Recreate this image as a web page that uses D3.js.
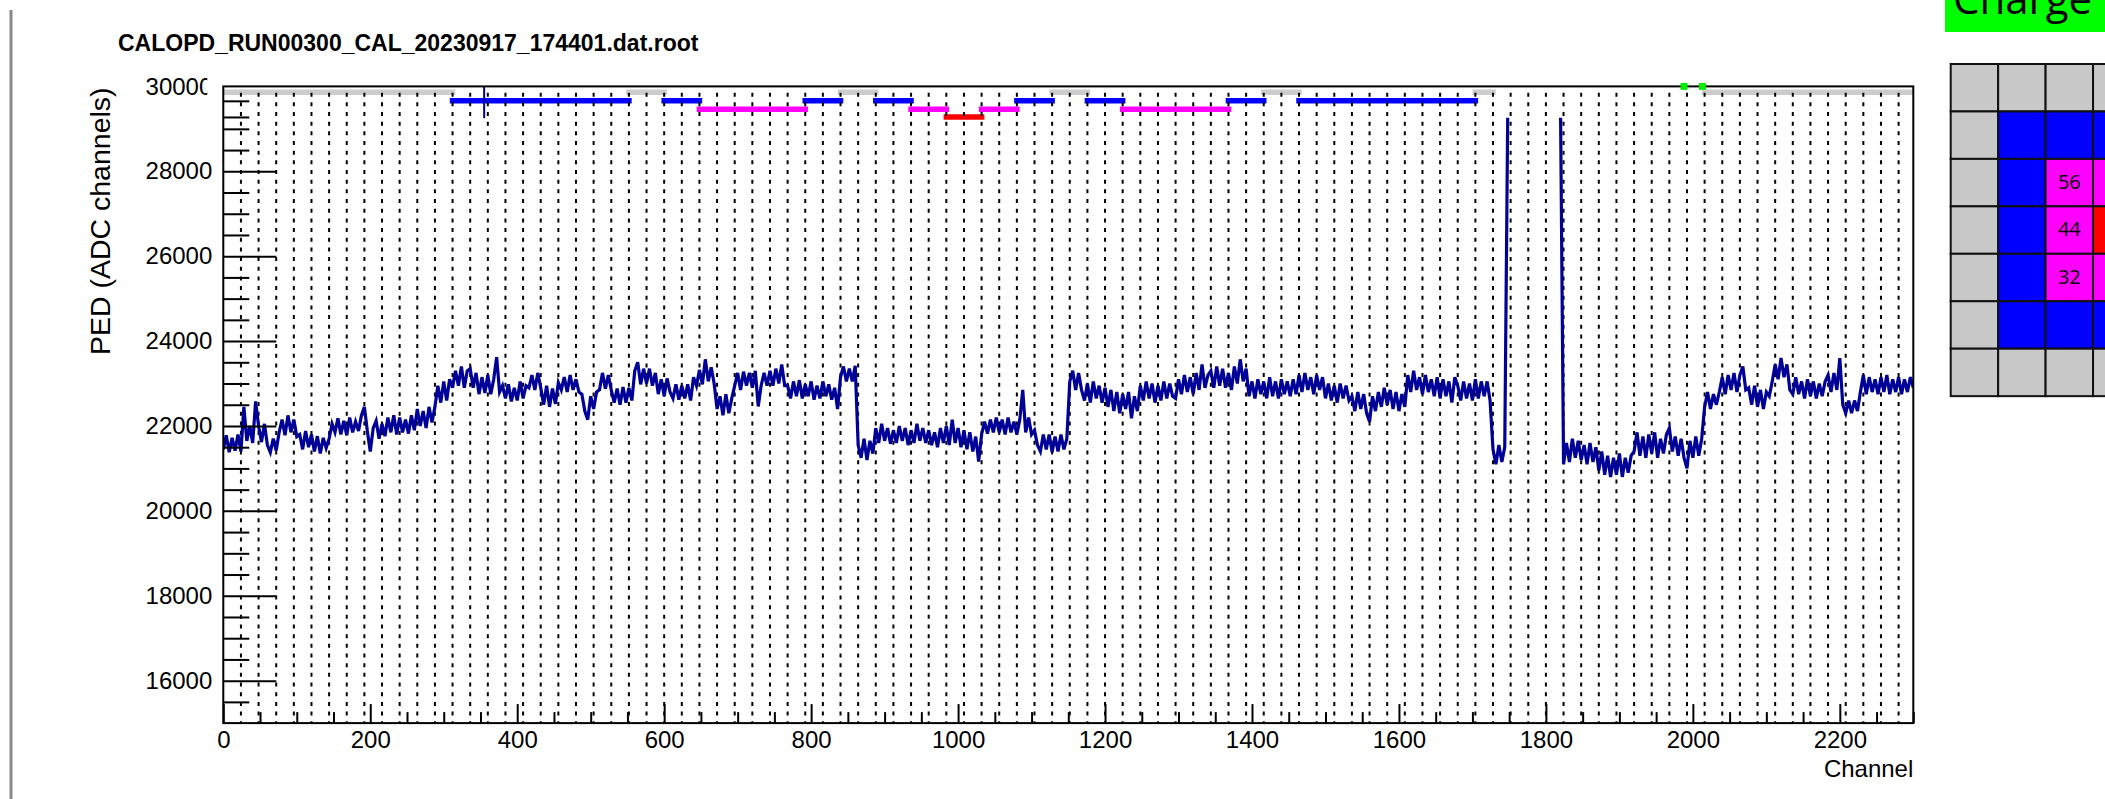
<!DOCTYPE html>
<html>
<head>
<meta charset="utf-8">
<script src="https://cdn.jsdelivr.net/npm/d3@7"></script>
<style>
  html, body { margin: 0; padding: 0; background: #fff; }
  svg { display: block; }
</style>
</head>
<body>
<script>
// ---- text ----
const fileTitle = "CALOPD_RUN00300_CAL_20230917_174401.dat.root";
const xTitle = "Channel";
const yTitle = "PED (ADC channels)";
const panelHeading = "Charge";

// ---- axes ----
const xRange = [0, 2300];
const yRange = [15000, 30000];
const xTickLabels = [0, 200, 400, 600, 800, 1000, 1200, 1400, 1600, 1800, 2000, 2200];
const yTickLabels = [16000, 18000, 20000, 22000, 24000, 26000, 28000, 30000];
const asicSize = 24;          // channels per readout chip (dashed separators)

// ---- pedestal per channel: one row per 48 channels, one value every 4 channels ----
const CH_STEP = 4;
const ROW_CH = 48;
const pedRows = [
  [21450,21780,21380,21720,21420,21800,21400,22450,21650,22000,21600,22580],
  [22000,21620,22050,21550,21380,21700,21420,21850,22150,21780,22250,21850],
  [22150,21750,21800,21450,21880,21500,21800,21400,21760,21350,21720,21480],
  [21700,22050,21850,22180,21800,22120,21780,22200,21850,22100,21880,22250],
  [22450,21880,21400,21950,22120,21700,22050,21760,22200,21850,22250,21800],
  [22200,21850,22150,21820,22250,21900,22400,22000,22350,21950,22450,22080],
  [22450,22950,22550,23050,22600,23100,22900,23300,22950,23400,22900,23300],
  [23350,22900,23250,22750,23150,22780,23200,22750,23100,23620,22800,22950],
  [22650,22980,22580,22900,22600,23050,22650,22950,22900,23200,22850,23250],
  [22900,22500,22950,22450,22880,22520,23020,22850,23150,22800,23200,22850],
  [23100,22800,22750,22350,22150,22700,22400,22800,22850,23250,22880,23200],
  [22850,22550,22880,22500,22920,22550,22900,22600,23300,23500,22980,23350],
  [23000,23350,22950,23250,22750,23100,22700,23120,22800,22650,22980,22620],
  [22950,22650,22980,22600,23150,22950,23320,22980,23570,23050,23380,23000],
  [22400,22700,22250,22750,22300,22650,22950,23250,22850,23280,22950,23250],
  [22900,23300,22460,22950,23250,22950,23300,22950,23350,23000,23450,22950],
  [22950,22650,23050,22700,23080,22650,22980,22700,23050,22620,22950,22650],
  [23050,22700,22980,22620,22900,22400,23150,23400,23050,23350,23050,23420],
  [21550,21250,21700,21200,21650,21350,21950,21600,22050,21650,21950,21580],
  [21900,21600,22000,21650,21950,21550,21900,21600,22050,21650,21950,21600],
  [21900,21550,21850,21500,21950,21600,22000,21550,22150,21600,21950,21500],
  [21900,21450,21850,21400,21750,21160,21800,22100,21820,22150,21850,22200],
  [21850,22150,21800,22200,21850,22100,21800,22150,22850,21850,22200,21800],
  [21900,21550,21400,21800,21450,21800,21380,21750,21400,21800,21450,21700],
  [23050,23300,22850,23250,22850,22600,23000,22550,23050,22650,22950,22550],
  [22900,22450,22850,22350,22800,22300,22750,22400,22800,22180,22700,22350],
  [22950,22600,23050,22650,23000,22550,22950,22600,23050,22650,23000,22700],
  [22650,23100,22750,23200,22800,23150,22750,23250,22850,23450,22900,23200],
  [23300,22900,23400,22950,23350,22900,23250,22850,23400,23000,23570,23050],
  [23350,22700,23050,22650,23100,22750,23050,22650,23150,22700,23050,22650],
  [23100,22750,23050,22700,23100,22750,23200,22800,23250,22850,23150,22750],
  [23200,22850,23150,22650,23000,22600,22950,22550,23000,22650,22950,22600],
  [22700,22350,22800,22400,22750,22300,22100,22700,22350,22800,22450,22900],
  [22500,22850,22400,22800,22350,22750,22450,23200,22800,23300,22850,23150],
  [22750,23200,22800,23100,22700,23150,22650,23100,22700,23050,22550,23150],
  [22950,22600,23050,22650,23000,22600,23100,22650,23050,22700,23050,22600],
  [21450,21100,21550,21150,21500,29260,null,null,null,null,null,null],
  [null,null,null,null,null,null,null,null,null,null,null,29260],
  [21100,21600,21150,21700,21250,21650,21200,21550,21100,21600,21150,21500],
  [20950,21400,20850,21300,20800,21250,20850,21350,20800,21250,20900,21300],
  [21400,21850,21300,21750,21250,21800,21350,21850,21250,21700,21350,21800],
  [21950,21400,21750,21300,21700,21250,21000,21650,21250,21750,21300,21700],
  [22450,22800,22400,22750,22500,22800,23150,22750,23200,22850,23250,22800],
  [23200,23400,22850,22900,22500,22950,22450,22850,22400,22800,22700,23050],
  [23450,23100,23600,23150,23450,22850,22750,23150,22750,23050,22650,23100],
  [22700,23050,22650,23000,22700,23050,23200,22800,23250,22850,23600,22500],
  [22300,22600,22300,22600,22350,22800,23200,22750,23150,22800,23100,22750],
  [23150,22800,23200,22750,23100,22800,23150,22750,23100,22800,23150,22900]
];

// ---- channel status bands drawn near the top of the frame ----
const statusLevels = { gray: 29860, blue: 29660, magenta: 29460, red: 29280 };
const statusSegments = [
  [0, 312, "gray"], [312, 552, "blue"], [552, 600, "gray"], [600, 648, "blue"],
  [648, 792, "magenta"], [792, 840, "blue"], [840, 888, "gray"], [888, 936, "blue"],
  [936, 984, "magenta"], [984, 1032, "red"], [1032, 1080, "magenta"], [1080, 1128, "blue"],
  [1128, 1176, "gray"], [1176, 1224, "blue"], [1224, 1368, "magenta"], [1368, 1416, "blue"],
  [1416, 1464, "gray"], [1464, 1704, "blue"], [1704, 1728, "gray"], [2016, 2300, "gray"]
];
const strayMarks = [[355, 29250, 30000]];   // [channel, low, high]
const flagChannels = [1988, 2013];

// ---- detector map (row-major status codes) ----
const mapStatus = [
  "GGGGGGG",
  "GBBBBBG",
  "GBMMMBG",
  "GBMRMBG",
  "GBMMMBG",
  "GBBBBBG",
  "GGGGGGG"
];
const mapLabels = [[2, 2, "56"], [3, 2, "44"], [4, 2, "32"]];  // [row, col, text]

// ---------------------------------------------------------------
const W = 2105, H = 799;
const colors = {
  gray: "#cccccc", blue: "#0000ff", magenta: "#ff00ff", red: "#ff0000",
  G: "#c8c8c8", B: "#0000ff", M: "#ff00ff", R: "#ff0000",
  line: "#000099"
};
const FONT = "'Liberation Sans', Arial, Helvetica, sans-serif";
const SLIDE_FONT = "'Open Sans', 'Noto Sans', sans-serif";

const svg = d3.select("body").append("svg")
  .attr("width", W).attr("height", H)
  .attr("viewBox", `0 0 ${W} ${H}`);

const frame = { left: 223.3, right: 1913.3, top: 86.4, bottom: 723.1 };
const x = d3.scaleLinear().domain(xRange).range([frame.left, frame.right]);
const y = d3.scaleLinear().domain(yRange).range([frame.bottom, frame.top]);

// page edge
svg.append("line")
  .attr("x1", 11).attr("x2", 11).attr("y1", 10).attr("y2", H)
  .attr("stroke", "#8a8a8a").attr("stroke-width", 3);

// title
svg.append("text")
  .attr("x", 118).attr("y", 51)
  .attr("font-family", FONT).attr("font-weight", "bold").attr("font-size", 23)
  .text(fileTitle);

const defs = svg.append("defs");
defs.append("clipPath").attr("id", "plotClip")
  .append("rect")
  .attr("x", frame.left).attr("y", frame.top)
  .attr("width", frame.right - frame.left).attr("height", frame.bottom - frame.top);
// the top label is partly hidden on its right side (tick-local coordinates)
defs.append("clipPath").attr("id", "labelClip")
  .append("rect").attr("x", -300).attr("y", -40).attr("width", 284).attr("height", 80);

// status bands
const bands = svg.append("g").attr("clip-path", "url(#plotClip)");
bands.selectAll("line").data(statusSegments).join("line")
  .attr("x1", d => x(d[0])).attr("x2", d => x(d[1]))
  .attr("y1", d => y(statusLevels[d[2]])).attr("y2", d => y(statusLevels[d[2]]))
  .attr("stroke", d => colors[d[2]])
  .attr("stroke-width", 5.5)
  .attr("stroke-linecap", "square");

// dashed chip separators
const sepChannels = d3.range(asicSize, xRange[1], asicSize);
svg.append("g").selectAll("line").data(sepChannels).join("line")
  .attr("x1", d => x(d)).attr("x2", d => x(d))
  .attr("y1", frame.top).attr("y2", frame.bottom)
  .attr("stroke", "#000").attr("stroke-width", 2)
  .attr("stroke-dasharray", "4 5.67")
  .attr("stroke-dashoffset", 3.4);

// pedestal line
const pedPoints = [];
pedRows.forEach((row, r) => row.forEach((v, j) => {
  const ch = r * ROW_CH + j * CH_STEP;
  if (ch <= xRange[1]) pedPoints.push({ ch, v });
}));
const line = d3.line()
  .defined(d => d.v !== null)
  .x(d => x(d.ch)).y(d => y(d.v));
const plot = svg.append("g").attr("clip-path", "url(#plotClip)");
plot.append("path")
  .datum(pedPoints)
  .attr("d", line)
  .attr("fill", "none")
  .attr("stroke", colors.line)
  .attr("stroke-width", 3.2)
  .attr("stroke-linejoin", "miter");

svg.append("g").selectAll("line").data(strayMarks).join("line")
  .attr("x1", d => x(d[0])).attr("x2", d => x(d[0]))
  .attr("y1", d => y(d[1])).attr("y2", d => y(d[2]))
  .attr("stroke", colors.line).attr("stroke-width", 2);

// frame
svg.append("rect")
  .attr("x", frame.left).attr("y", frame.top)
  .attr("width", frame.right - frame.left).attr("height", frame.bottom - frame.top)
  .attr("fill", "none").attr("stroke", "#000").attr("stroke-width", 2);

// flags on the top edge
svg.append("g").selectAll("rect").data(flagChannels).join("rect")
  .attr("x", d => x(d) - 3.5).attr("y", y(yRange[1]) - 3.5)
  .attr("width", 7).attr("height", 7)
  .attr("fill", "#00ee00");

// y axis: ticks point inward
const styleAxis = g => {
  g.select(".domain").remove();
  g.selectAll(".tick line").attr("stroke", "#000").attr("stroke-width", 2);
  g.selectAll("text").attr("font-family", FONT).attr("font-size", 24).attr("fill", "#000");
};
const yMinor = d3.range(yRange[0] + 500, yRange[1], 500)
  .filter(v => v % 2000 !== 0 && v !== 29500)
  .concat([statusLevels.blue, statusLevels.red]);
svg.append("g").attr("transform", `translate(${frame.left},0)`)
  .call(d3.axisLeft(y).tickValues(yMinor).tickSize(-26).tickFormat(""))
  .call(styleAxis);
const yAx = svg.append("g").attr("transform", `translate(${frame.left},0)`)
  .call(d3.axisLeft(y).tickValues(yTickLabels).tickSize(-53).tickPadding(11)
    .tickFormat(d3.format("d")))
  .call(styleAxis);
const topTick = yAx.selectAll(".tick").filter(d => d === yRange[1]);
topTick.select("text").attr("clip-path", "url(#labelClip)");
topTick.select("line").remove();

// x axis
const xMinor = d3.range(50, xRange[1] + 1, 50).filter(v => v % 200 !== 0);
svg.append("g").attr("transform", `translate(0,${frame.bottom})`)
  .call(d3.axisBottom(x).tickValues(xMinor).tickSize(-11).tickFormat(""))
  .call(styleAxis);
svg.append("g").attr("transform", `translate(0,${frame.bottom})`)
  .call(d3.axisBottom(x).tickValues(xTickLabels).tickSize(-19).tickPadding(8)
    .tickFormat(d3.format("d")))
  .call(styleAxis);

// axis titles
svg.append("text")
  .attr("x", frame.right).attr("y", 777)
  .attr("text-anchor", "end")
  .attr("font-family", FONT).attr("font-size", 24)
  .text(xTitle);
svg.append("text")
  .attr("transform", `translate(110,${frame.top + 1}) rotate(-90)`)
  .attr("text-anchor", "end")
  .attr("font-family", FONT).attr("font-size", 28.5)
  .text(yTitle);

// ---- detector map panel ----
svg.append("rect")
  .attr("x", 1945).attr("y", 0).attr("width", W - 1945).attr("height", 32)
  .attr("fill", "#00ff00");
svg.append("text")
  .attr("x", 1953).attr("y", 14)
  .attr("font-family", SLIDE_FONT).attr("font-size", 42)
  .text(panelHeading);

const cell = 47.45, mapX0 = 1950.7, mapY0 = 64;
const cells = [];
mapStatus.forEach((row, r) => row.split("").forEach((s, c) => cells.push({ r, c, s })));
const mapG = svg.append("g");
mapG.selectAll("rect").data(cells).join("rect")
  .attr("x", d => mapX0 + d.c * cell).attr("y", d => mapY0 + d.r * cell)
  .attr("width", cell).attr("height", cell)
  .attr("fill", d => colors[d.s])
  .attr("stroke", "#111").attr("stroke-width", 2);
mapG.selectAll("text").data(mapLabels).join("text")
  .attr("x", d => mapX0 + (d[1] + 0.5) * cell)
  .attr("y", d => mapY0 + (d[0] + 0.5) * cell)
  .attr("dy", "0.3em")
  .attr("text-anchor", "middle")
  .attr("font-family", SLIDE_FONT).attr("font-size", 20)
  .text(d => d[2]);
</script>
</body>
</html>
